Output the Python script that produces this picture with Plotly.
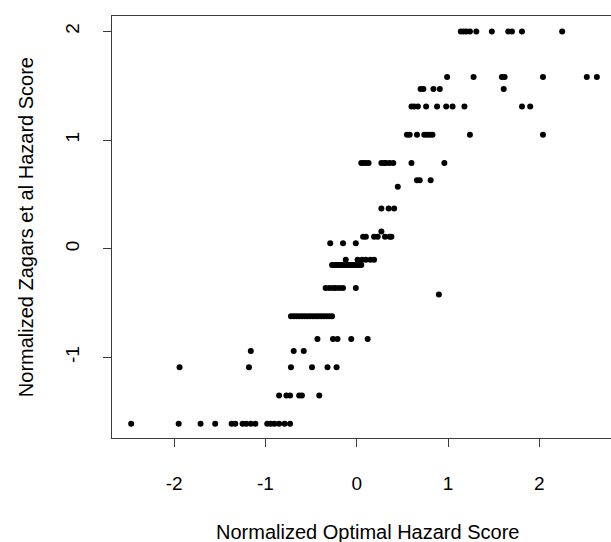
import plotly.graph_objects as go

# Normalized Zagars et al hazard score levels (y) and the optimal hazard scores (x) at each level
y_levels = [2.0, 1.58, 1.47, 1.31, 1.05, 0.79, 0.63, 0.57, 0.37, 0.16, 0.11, 0.05,
            -0.10, -0.15, -0.36, -0.42, -0.62, -0.83, -0.94, -1.09, -1.35, -1.61]

x_at_2_00 = [1.14, 1.17, 1.20, 1.24, 1.31, 1.48, 1.66, 1.70, 1.81, 2.25]
x_at_1_58 = [0.99, 1.28, 1.59, 1.62, 2.04, 2.52, 2.63]
x_at_1_47 = [0.70, 0.73, 0.84, 0.91, 1.61]
x_at_1_31 = [0.60, 0.63, 0.67, 0.76, 0.88, 0.98, 1.05, 1.18, 1.81, 1.90]
x_at_1_05 = [0.55, 0.58, 0.66, 0.74, 0.77, 0.80, 0.83, 1.24, 2.04]
x_at_0_79 = [0.05, 0.07, 0.10, 0.13, 0.27, 0.30, 0.32, 0.36, 0.40, 0.60, 0.96]
x_at_0_63 = [0.66, 0.69, 0.81]
x_at_0_57 = [0.45]
x_at_0_37 = [0.27, 0.35, 0.41]
x_at_0_16 = [0.27]
x_at_0_11 = [0.07, 0.10, 0.19, 0.23, 0.31, 0.36, 0.38]
x_at_0_05 = [-0.29, -0.15, -0.01]
x_at_m0_10 = [-0.12, 0.01, 0.06, 0.10, 0.15, 0.19]
x_at_m0_15 = [-0.27, -0.25, -0.23, -0.21, -0.19, -0.17, -0.15, -0.13, -0.11,
              -0.09, -0.07, -0.05, -0.03, -0.01, 0.01, 0.03, 0.05]
x_at_m0_36 = [-0.34, -0.30, -0.26, -0.23, -0.19, -0.15, -0.01]
x_at_m0_42 = [0.90]
x_at_m0_62 = [-0.72, -0.69, -0.66, -0.63, -0.60, -0.57, -0.54, -0.51, -0.48,
              -0.45, -0.42, -0.39, -0.36, -0.33, -0.30, -0.27]
x_at_m0_83 = [-0.43, -0.26, -0.21, -0.06, 0.12]
x_at_m0_94 = [-1.16, -0.69, -0.58]
x_at_m1_09 = [-1.94, -1.18, -0.72, -0.49, -0.32, -0.22]
x_at_m1_35 = [-0.85, -0.77, -0.73, -0.63, -0.60, -0.41]
x_at_m1_61 = [-2.47, -1.95, -1.71, -1.55, -1.37, -1.33, -1.25, -1.21, -1.16,
              -1.11, -0.98, -0.94, -0.90, -0.85, -0.79, -0.73]

x_rows = [x_at_2_00, x_at_1_58, x_at_1_47, x_at_1_31, x_at_1_05, x_at_0_79,
          x_at_0_63, x_at_0_57, x_at_0_37, x_at_0_16, x_at_0_11, x_at_0_05,
          x_at_m0_10, x_at_m0_15, x_at_m0_36, x_at_m0_42, x_at_m0_62,
          x_at_m0_83, x_at_m0_94, x_at_m1_09, x_at_m1_35, x_at_m1_61]

x_ticks = [-2, -1, 0, 1, 2]
y_ticks = [-1, 0, 1, 2]

xs, ys = [], []
for yv, row in zip(y_levels, x_rows):
    for xv in row:
        xs.append(xv)
        ys.append(yv)

FONT = "Liberation Sans, Arial, Helvetica, sans-serif"
LINE = "#3a3a3a"

fig = go.Figure()
fig.add_trace(go.Scatter(
    x=xs, y=ys, mode="markers",
    marker=dict(size=6, color="black", line=dict(width=0)),
    showlegend=False, hoverinfo="x+y",
))

fig.update_layout(
    width=611, height=542,
    margin=dict(l=112, r=0, t=16, b=104),
    paper_bgcolor="white", plot_bgcolor="white",
    font=dict(family=FONT, size=19, color="black"),
    xaxis=dict(
        range=[-2.680, 2.785], tickvals=x_ticks, ticktext=[str(v) for v in x_ticks],
        showgrid=False, zeroline=False,
        showline=True, mirror=True, linecolor=LINE, linewidth=1,
        ticks="outside", ticklen=8, tickwidth=1, tickcolor=LINE,
        ticklabelstandoff=20,
        tickfont=dict(family=FONT, size=19, color="black"),
    ),
    yaxis=dict(
        range=[-1.741, 2.142], tickvals=y_ticks, ticktext=[str(v) for v in y_ticks],
        showgrid=False, zeroline=False,
        showline=True, mirror=False, linecolor=LINE, linewidth=1,
        ticks="outside", ticklen=8, tickwidth=1, tickcolor=LINE,
        tickangle=-90, ticklabelstandoff=16,
        tickfont=dict(family=FONT, size=19, color="black"),
    ),
    annotations=[
        dict(text="Normalized Optimal Hazard Score", xref="paper", yref="paper",
             x=0.513, y=-0.2227, xanchor="center", yanchor="middle", showarrow=False,
             font=dict(family=FONT, size=20, color="black")),
        dict(text="Normalized Zagars et al Hazard Score", xref="paper", yref="paper",
             x=-0.172, y=0.5, xanchor="center", yanchor="middle", showarrow=False,
             textangle=-90, font=dict(family=FONT, size=20, color="black")),
    ],
)

fig.write_html("out.html")
